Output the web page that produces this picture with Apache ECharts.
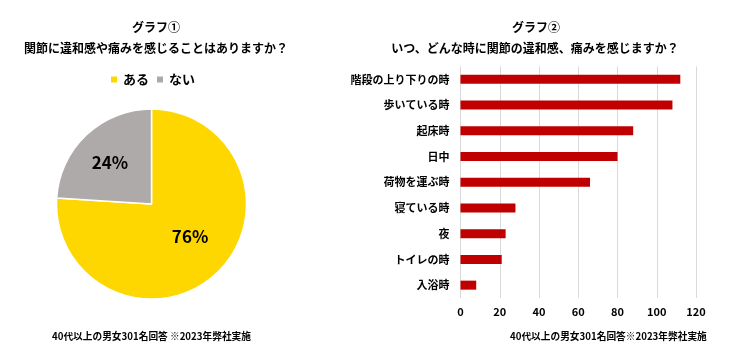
<!DOCTYPE html>
<html><head><meta charset="utf-8">
<script src="https://cdn.jsdelivr.net/npm/echarts@6/dist/echarts.min.js"></script>
<style>html,body{margin:0;padding:0;background:#fff}#c{width:742px;height:356px}</style>
</head><body><div id="c"></div>
<script>
const pieNames = ['ある', 'ない'];
const pieValues = [76, 24];
const pieColors = ['#FFD700', '#AEAAAA'];
const barCategories = ['階段の上り下りの時', '歩いている時', '起床時', '日中', '荷物を運ぶ時', '寝ている時', '夜', 'トイレの時', '入浴時'];
const barValues = [112, 108, 88, 80, 66, 28, 23, 21, 8];
const xTicks = [0, 20, 40, 60, 80, 100, 120];
const FONT = '"Noto Sans CJK JP", "Noto Sans", sans-serif';
const pieLabelOffsets = [[4, -4], [-7, -5]];

const chart = echarts.init(document.getElementById('c'));
chart.setOption({
  animation: false,
  textStyle: { fontFamily: FONT },
  title: [
    { text: 'グラフ①', left: 151, top: 16, textAlign: 'center', textStyle: { fontSize: 12, fontWeight: 'bold', color: '#000', fontFamily: FONT } },
    { text: '関節に違和感や痛みを感じることはありますか？', left: 151, top: 37, textAlign: 'center', textStyle: { fontSize: 12, fontWeight: 'bold', color: '#000', fontFamily: FONT } },
    { text: 'グラフ②', left: 531, top: 16, textAlign: 'center', textStyle: { fontSize: 12, fontWeight: 'bold', color: '#000', fontFamily: FONT } },
    { text: 'いつ、どんな時に関節の違和感、痛みを感じますか？', left: 530, top: 37, textAlign: 'center', textStyle: { fontSize: 12, fontWeight: 'bold', color: '#000', fontFamily: FONT } },
    { text: '40代以上の男女301名回答 ※2023年弊社実施', left: 47, top: 326, textStyle: { fontSize: 9.7, fontWeight: 'bold', color: '#000', fontFamily: FONT } },
    { text: '40代以上の男女301名回答※2023年弊社実施', left: 505, top: 326, textStyle: { fontSize: 9.7, fontWeight: 'bold', color: '#000', fontFamily: FONT } }
  ],
  legend: {
    data: pieNames,
    left: 104, top: 68,
    icon: 'rect', itemWidth: 8, itemHeight: 8, itemGap: 6,
    textStyle: { fontSize: 13, fontWeight: 'bold', color: '#000', fontFamily: FONT }
  },
  grid: { left: 460.5, right: 46, top: 66.5, bottom: 58 },
  xAxis: {
    type: 'value', min: 0, max: 120, interval: 20,
    axisLine: { show: false }, axisTick: { show: false },
    splitLine: { lineStyle: { color: '#d9d9d9', width: 1 } },
    axisLabel: { fontSize: 11, color: '#000', fontWeight: 'bold', margin: 8, fontFamily: FONT, formatter: v => xTicks.includes(v) ? String(v) : '' }
  },
  yAxis: {
    type: 'category', data: barCategories, inverse: true,
    axisLine: { show: false }, axisTick: { show: false },
    axisLabel: { fontSize: 11, color: '#000', fontWeight: 'bold', margin: 11, fontFamily: FONT }
  },
  series: [
    {
      type: 'pie', center: [151.5, 204], radius: 95,
      startAngle: 90, clockwise: true,
      data: pieNames.map((n, i) => ({ name: n, value: pieValues[i], itemStyle: { color: pieColors[i] }, label: { offset: pieLabelOffsets[i] } })),
      itemStyle: { borderColor: '#fff', borderWidth: 1.5 },
      label: { show: true, position: 'inside', formatter: '{c}%', fontSize: 17, fontWeight: 'bold', color: '#000', fontFamily: FONT },
      labelLine: { show: false },
      emphasis: { disabled: true }
    },
    {
      type: 'bar', data: barValues, barWidth: 9,
      itemStyle: { color: '#C00000' },
      emphasis: { disabled: true }
    }
  ]
});
</script></body></html>
